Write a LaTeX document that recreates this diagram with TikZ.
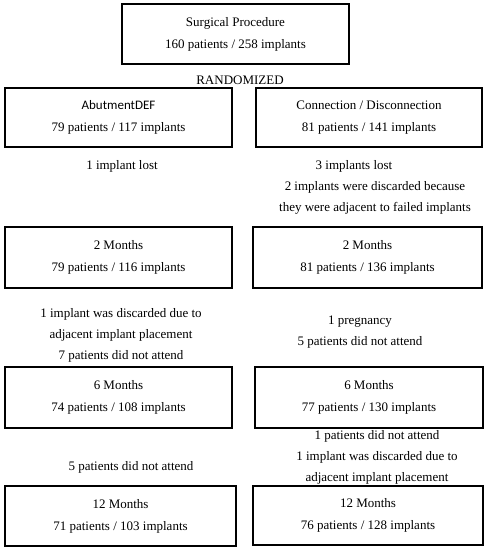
\documentclass[tikz,border=0pt]{standalone}
\usepackage{fontspec}
\setmainfont{Liberation Serif}
\newfontfamily\carlito{Carlito}
\tikzset{
  box/.style={draw, line width=1.2pt, align=center, inner sep=0pt,
    font=\fontsize{13}{22}\selectfont},
  note/.style={align=center, inner sep=0pt, font=\fontsize{13}{21}\selectfont}
}
\begin{document}
\begin{tikzpicture}[x=1pt,y=-1pt]
\useasboundingbox (0,0) rectangle (487,550);
% boxes
\node[box, minimum width=227pt, minimum height=60pt] (top) at (235.5,34)
  {Surgical Procedure\\160 patients / 258 implants};
\node[note] (rand) at (240,80) {RANDOMIZED};
\node[box, minimum width=227pt, minimum height=59pt] (lA) at (118.5,117.5)
  {{\carlito AbutmentDEF}\\79 patients / 117 implants};
\node[box, minimum width=226pt, minimum height=59pt] (rA) at (369,117.5)
  {Connection / Disconnection\\81 patients / 141 implants};
\node[box, minimum width=227pt, minimum height=61pt] (l2) at (118.5,257.5)
  {2 Months\\79 patients / 116 implants};
\node[box, minimum width=229pt, minimum height=61pt] (r2) at (367.5,257.5)
  {2 Months\\81 patients / 136 implants};
\node[box, minimum width=227pt, minimum height=61pt] (l6) at (118.5,397.5)
  {6 Months\\74 patients / 108 implants};
\node[box, minimum width=228pt, minimum height=61pt] (r6) at (369,397.5)
  {6 Months\\77 patients / 130 implants};
\node[box, minimum width=231pt, minimum height=60pt] (l12) at (120.5,516)
  {12 Months\\71 patients / 103 implants};
\node[box, minimum width=230pt, minimum height=59pt] (r12) at (368,515.5)
  {12 Months\\76 patients / 128 implants};
% notes
\node[note] (nl1) at (122,166) {1 implant lost};
\node[note] (nr1a) at (354,166) {3 implants lost};
\node[note] (nr1b) at (375,197.5) {2 implants were discarded because\\they were adjacent to failed implants};
\node[note] (nl2) at (121,335.5) {1 implant was discarded due to\\adjacent implant placement\\7 patients did not attend};
\node[note] (nr2) at (360,332) {1 pregnancy\\5 patients did not attend};
\node[note] (nl6) at (131,467) {5 patients did not attend};
\node[note] (nr6) at (377,457.5) {1 patients did not attend\\1 implant was discarded due to\\adjacent implant placement};
\end{tikzpicture}
\end{document}
